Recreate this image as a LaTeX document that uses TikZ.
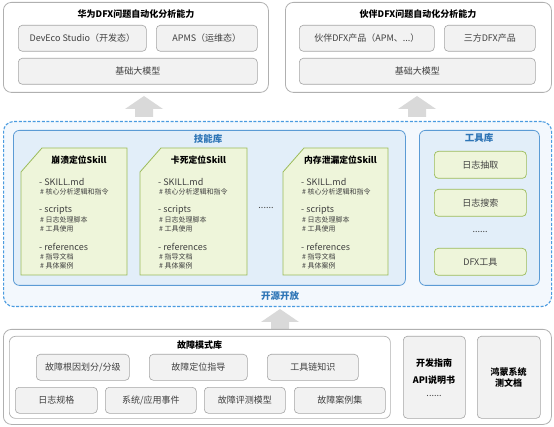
\documentclass[tikz,border=0pt]{standalone}
\usepackage{fontspec}
\setmainfont{Noto Sans CJK SC}
\definecolor{gborder}{HTML}{A6A6A6}
\definecolor{gfill}{HTML}{F2F2F2}
\definecolor{oborder}{HTML}{B0B0B0}
\definecolor{bdash}{HTML}{4A9BE0}
\definecolor{bfill}{HTML}{F3F8FD}
\definecolor{libfill}{HTML}{E2EEF9}
\definecolor{libborder}{HTML}{5B9BD5}
\definecolor{gnfill}{HTML}{EEF5DA}
\definecolor{gnborder}{HTML}{9BBB59}
\definecolor{arrowgrey}{HTML}{D9D9D9}
\definecolor{titleblue}{HTML}{2E75B6}
\definecolor{txt}{HTML}{404040}
\tikzset{
  outerbox/.style={draw=oborder, line width=0.8pt, rounded corners=8pt, fill=white, anchor=north west, inner sep=0pt},
  gbox/.style={draw=gborder, fill=gfill, rounded corners=4pt, line width=0.6pt, anchor=north west, inner sep=0pt, font=\fontsize{9}{11}\selectfont, text=txt},
  gnbox/.style={draw=gnborder, fill=gnfill, rounded corners=4pt, line width=0.7pt, anchor=north west, inner sep=0pt, font=\fontsize{9}{11}\selectfont, text=txt},
  libbox/.style={draw=libborder, fill=libfill, rounded corners=6pt, line width=0.8pt, anchor=north west, inner sep=0pt},
  ttl/.style={font=\fontsize{9}{11}\bfseries\selectfont, text=black, inner sep=0pt},
  cardttl/.style={font=\fontsize{8.8}{11}\bfseries\selectfont, text=black, inner sep=0pt},
  bluettl/.style={font=\fontsize{9.5}{11}\bfseries\selectfont, text=titleblue, inner sep=0pt},
  card/.style={draw=gnborder, fill=gnfill, line width=0.8pt},
  bigtxt/.style={font=\fontsize{9}{10}\selectfont, text=txt, inner sep=0pt, anchor=west},
  smalltxt/.style={font=\fontsize{7}{8}\selectfont, text=txt, inner sep=0pt, anchor=west},
  blockarrow/.style={fill=arrowgrey, draw=none}
}
\newcommand{\skillcard}[4]{%
  \draw[card] (#2,172) -- ({#2+21},148) -- (#3,148) -- (#3,275) -- (#2,275) -- cycle;
  \node[cardttl] (#1) at ({(#2+#3)/2+5},160) {#4};
  \node[bigtxt] (#1a) at ({#2+18},182) {- SKILL.md};
  \node[smalltxt] (#1b) at ({#2+19},191.5) {\# 核心分析逻辑和指令};
  \node[bigtxt] (#1c) at ({#2+18},210) {- scripts};
  \node[smalltxt] (#1d) at ({#2+19},219.5) {\# 日志处理脚本};
  \node[smalltxt] (#1e) at ({#2+19},228.5) {\# 工具使用};
  \node[bigtxt] (#1f) at ({#2+18},247) {- references};
  \node[smalltxt] (#1g) at ({#2+19},256.5) {\# 指导文档};
  \node[smalltxt] (#1h) at ({#2+19},265.5) {\# 具体案例};
}
\begin{document}
\begin{tikzpicture}[x=1pt,y=-1pt]
\useasboundingbox (0,0) rectangle (554,427);
% ---------- top left
\node[outerbox, minimum width=265, minimum height=90] (hw) at (3,2) {};
\node[ttl] (hwt) at (136,14) {华为DFX问题自动化分析能力};
\node[gbox, minimum width=128, minimum height=26] (dev) at (18,25) {DevEco Studio（开发态）};
\node[gbox, minimum width=101, minimum height=26] (apms) at (156,25) {APMS（运维态）};
\node[gbox, minimum width=239, minimum height=26] (llm1) at (18,58) {基础大模型};
% ---------- top right
\node[outerbox, minimum width=266, minimum height=90] (pt) at (285,2) {};
\node[ttl] (ptt) at (418,14) {伙伴DFX问题自动化分析能力};
\node[gbox, minimum width=135, minimum height=26] (apm) at (299,25) {伙伴DFX产品（APM、...）};
\node[gbox, minimum width=91, minimum height=26] (third) at (444,25) {三方DFX产品};
\node[gbox, minimum width=236, minimum height=26] (llm2) at (299,58) {基础大模型};
% ---------- arrows up
\fill[blockarrow] (135,117) -- (135,109) -- (125,109) -- (144,96) -- (163,109) -- (153,109) -- (153,117) -- cycle;
\fill[blockarrow] (408,117) -- (408,109) -- (398,109) -- (417,96) -- (436,109) -- (426,109) -- (426,117) -- cycle;
% ---------- open source box
\node[draw=bdash, fill=bfill, dash pattern=on 3pt off 1.6pt, line width=1.1pt, rounded corners=10pt, anchor=north west, inner sep=0pt, minimum width=548, minimum height=185] (open) at (3,121) {};
\node[bluettl] (opent) at (280,296) {开源开放};
% skill library
\node[libbox, minimum width=392, minimum height=155] (skills) at (13,130) {};
\node[bluettl] (skillst) at (208,139) {技能库};
\skillcard{c1}{21}{127}{崩溃定位Skill}
\skillcard{c2}{140}{247}{卡死定位Skill}
\skillcard{c3}{283}{388}{内存泄漏定位Skill}
\node[font=\fontsize{9}{10}\selectfont, text=txt, inner sep=0pt] (cdots) at (266,208) {......};
% tool library
\node[libbox, minimum width=120, minimum height=155] (tools) at (419,130) {};
\node[bluettl] (toolst) at (479,137.5) {工具库};
\node[gnbox, minimum width=92, minimum height=27] (t1) at (434,151) {日志抽取};
\node[gnbox, minimum width=92, minimum height=27] (t2) at (434,189) {日志搜索};
\node[font=\fontsize{9}{10}\selectfont, text=txt, inner sep=0pt] (tdots) at (480,232) {......};
\node[gnbox, minimum width=92, minimum height=27] (t3) at (434,248) {DFX工具};
% ---------- arrow up bottom
\fill[blockarrow] (271,329) -- (271,322) -- (261,322) -- (280,309) -- (299,322) -- (289,322) -- (289,329) -- cycle;
% ---------- bottom
\node[outerbox, minimum width=548, minimum height=95] (base) at (3,329) {};
\node[draw=oborder, fill=white, rounded corners=6pt, line width=0.7pt, anchor=north west, inner sep=0pt, minimum width=381, minimum height=82] (fault) at (9,336) {};
\node[ttl] (faultt) at (199.5,345) {故障模式库};
\node[gbox, minimum width=93, minimum height=26] (f1) at (36,354) {故障根因划分/分级};
\node[gbox, minimum width=98, minimum height=26] (f2) at (149,354) {故障定位指导};
\node[gbox, minimum width=91, minimum height=26] (f3) at (267,354) {工具链知识};
\node[gbox, minimum width=82, minimum height=26] (f4) at (15,387) {日志规格};
\node[gbox, minimum width=91, minimum height=26] (f5) at (105,387) {系统/应用事件};
\node[gbox, minimum width=81, minimum height=26] (f6) at (204,387) {故障评测模型};
\node[gbox, minimum width=91, minimum height=26] (f7) at (294,387) {故障案例集};
\node[gbox, minimum width=62, minimum height=82] (dg) at (403,336) {};
\node[ttl] (dg1) at (434,363) {开发指南};
\node[ttl] (dg2) at (434,380) {API说明书};
\node[font=\fontsize{9}{10}\selectfont, text=txt, inner sep=0pt] (dg3) at (434,396) {......};
\node[gbox, minimum width=63, minimum height=82] (hm) at (477,336) {};
\node[ttl, align=center, font=\fontsize{9}{11.5}\bfseries\selectfont] (hmt) at (508.5,377.5) {鸿蒙系统\\测文档};
\end{tikzpicture}
\end{document}
